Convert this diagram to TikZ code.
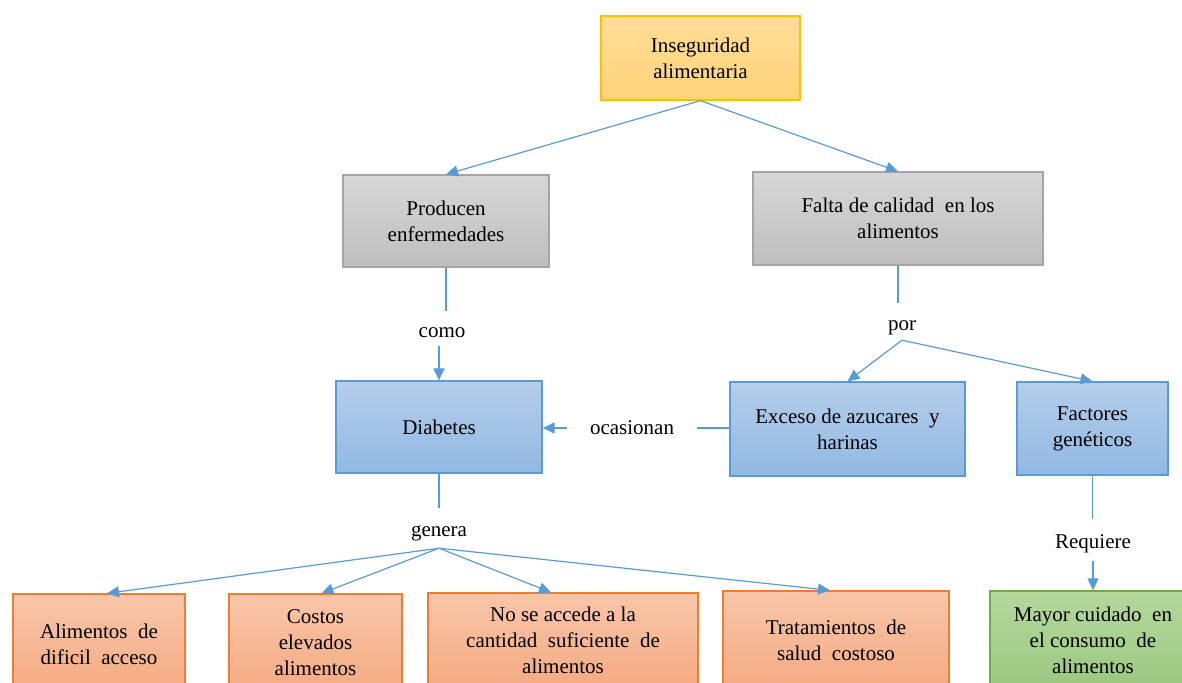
\documentclass[tikz,border=0pt]{standalone}
\usepackage{fontspec}
\setmainfont{Liberation Serif}
\usetikzlibrary{arrows.meta}
\definecolor{lineblue}{RGB}{91,155,213}
\definecolor{ytop}{RGB}{255,221,150}
\definecolor{ybot}{RGB}{255,211,122}
\definecolor{ybrd}{RGB}{255,192,0}
\definecolor{gtop}{RGB}{215,215,215}
\definecolor{gbot}{RGB}{190,190,190}
\definecolor{gbrd}{RGB}{165,165,165}
\definecolor{btop}{RGB}{180,206,235}
\definecolor{bbot}{RGB}{146,184,226}
\definecolor{bbrd}{RGB}{91,155,213}
\definecolor{otop}{RGB}{248,198,170}
\definecolor{obot}{RGB}{244,170,130}
\definecolor{obrd}{RGB}{237,125,49}
\definecolor{grtop}{RGB}{181,216,157}
\definecolor{grbot}{RGB}{155,199,128}
\definecolor{grbrd}{RGB}{112,173,71}
\begin{document}
\begin{tikzpicture}[x=1pt,y=-1pt,
  box/.style={draw, line width=1.3pt, align=center, inner sep=0pt,
    font=\fontsize{21}{26}\selectfont},
  ybox/.style={box, draw=ybrd, top color=ytop, bottom color=ybot},
  gbox/.style={box, draw=gbrd, top color=gtop, bottom color=gbot},
  bbox/.style={box, draw=bbrd, top color=btop, bottom color=bbot},
  obox/.style={box, draw=obrd, top color=otop, bottom color=obot},
  grbox/.style={box, draw=grbrd, top color=grtop, bottom color=grbot},
  lbl/.style={inner sep=0pt, font=\fontsize{21}{26}\selectfont},
  vlbl/.style={lbl, text height=17pt, text depth=0pt},
  plain/.style={draw=lineblue, line width=1.2pt},
  conn/.style={plain, -{Triangle[length=12pt,width=11pt]}}]
\useasboundingbox (0,0) rectangle (1182,682);
\clip (0,0) rectangle (1182,682);
% boxes
\node[ybox, minimum width=199pt, minimum height=84pt] (ins) at (700.5,58) {Inseguridad\\alimentaria};
\node[gbox, minimum width=206pt, minimum height=92pt] (prod) at (446,221) {Producen\\enfermedades};
\node[gbox, minimum width=290pt, minimum height=93pt] (falta) at (898,218.5) {Falta de calidad \ en los\\alimentos};
\node[bbox, minimum width=206pt, minimum height=92pt] (diab) at (439,427) {Diabetes};
\node[bbox, minimum width=235pt, minimum height=94pt] (exc) at (847.5,429) {Exceso de azucares \ y\\harinas};
\node[bbox, minimum width=151pt, minimum height=93pt] (fact) at (1092.5,428.5) {Factores\\genéticos};
\node[obox, minimum width=172pt, minimum height=100pt] (alim) at (99,644) {Alimentos \ de\\dificil \ acceso};
\node[obox, minimum width=173pt, minimum height=98pt] (cost) at (315.5,643) {Costos\\elevados\\alimentos};
\node[obox, minimum width=270pt, minimum height=95pt] (nose) at (563,640.5) {No se accede a la\\cantidad \ suficiente \ de\\alimentos};
\node[obox, minimum width=226pt, minimum height=98pt] (trat) at (836,640) {Tratamientos \ de\\salud \ costoso};
\node[grbox, minimum width=206pt, minimum height=99pt] (may) at (1093,640.5) {Mayor cuidado \ en\\el consumo \ de\\alimentos};
% labels
\node[vlbl, minimum height=35pt] (como) at (442,328.5) {como};
\node[vlbl, minimum height=37pt] (por) at (902,321.5) {por};
\node[lbl, minimum width=130pt] (ocas) at (632,428) {ocasionan};
\node[vlbl, minimum height=40pt] (gen) at (439,528) {genera};
\node[vlbl, minimum height=41pt] (req) at (1093,540) {Requiere};
% connectors
\draw[conn] (ins.south) -- (prod.north);
\draw[conn] (ins.south) -- (falta.north);
\draw[plain] (prod.south) -- (prod.south |- como.north);
\draw[conn] (como.south -| diab.north) -- (diab.north);
\draw[plain] (falta.south) -- (falta.south |- por.north);
\draw[conn] (por.south) -- (exc.north);
\draw[conn] (por.south) -- (fact.north);
\draw[plain] (ocas.east |- ocas.center) -- (exc.west |- ocas.center);
\draw[conn] (ocas.west) -- (diab.east |- ocas.west);
\draw[plain] (diab.south) -- (gen.north);
\draw[conn] (gen.south) -- ([xshift=8pt]alim.north);
\draw[conn] (gen.south) -- ([xshift=6pt]cost.north);
\draw[conn] (gen.south) -- ([xshift=-12pt]nose.north);
\draw[conn] (gen.south) -- ([xshift=-6pt]trat.north);
\draw[plain] (fact.south) -- (fact.south |- req.north);
\draw[conn] (req.south -| may.north) -- (may.north);
\end{tikzpicture}
\end{document}
